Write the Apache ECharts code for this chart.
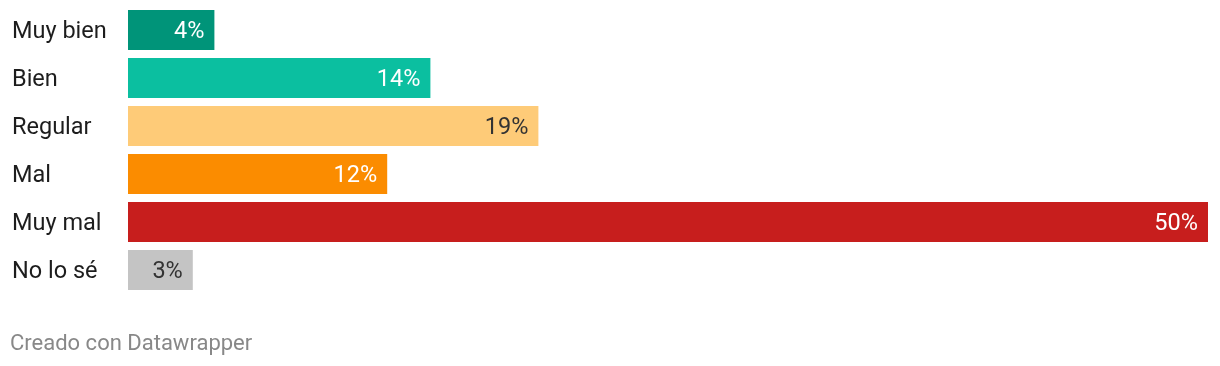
<!DOCTYPE html>
<html><head><meta charset="utf-8">
<script src="https://cdn.jsdelivr.net/npm/echarts@6/dist/echarts.min.js"></script>
<style>html,body{margin:0;padding:0;background:#fff}#c{width:1220px;height:366px}</style>
</head><body><div id="c"></div>
<script>
const categories = ["Muy bien","Bien","Regular","Mal","Muy mal","No lo sé"];
const values = [4,14,19,12,50,3];
const barColors = ["#009479","#0bbfa0","#fecb78","#fb8c00","#c71e1d","#c4c4c4"];
const labelColors = ["#ffffff","#ffffff","#333333","#ffffff","#ffffff","#333333"];

const chart = echarts.init(document.getElementById('c'), null, {renderer:'canvas'});
chart.setOption({
  animation:false,
  textStyle:{fontFamily:'Roboto'},
  grid:{left:128,right:12,top:6,bottom:72,containLabel:false},
  xAxis:{type:'value',min:0,max:50,show:false},
  yAxis:{type:'category',data:categories,inverse:true,
    axisLine:{show:false},axisTick:{show:false},splitLine:{show:false},
    axisLabel:{align:'left',verticalAlign:'top',lineHeight:4,margin:116,fontSize:23.5,color:'#1d1d1d',fontFamily:'Roboto'}},
  series:[{type:'bar',barWidth:40,
    data:values.map((v,i)=>({value:v,itemStyle:{color:barColors[i]},
      label:{color:labelColors[i]}})),
    label:{show:true,position:'insideRight',distance:10,offset:[0,2],fontSize:23.5,fontFamily:'Roboto',
      formatter:p=>p.value+'%'}}],
  graphic:[{type:'text',left:10,top:333,style:{text:'Creado con Datawrapper',fill:'#888888',fontSize:22,fontFamily:'Roboto'}}]
});
</script></body></html>
